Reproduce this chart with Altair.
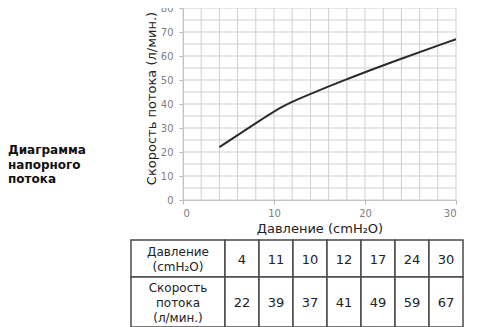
import altair as alt
import pandas as pd

# ---- data ----
pressure = [4, 11, 10, 12, 17, 24, 30]
flow = [22, 39, 37, 41, 49, 59, 67]
x_ticks = [0, 10, 20, 30]
y_ticks = [0, 10, 20, 30, 40, 50, 60, 70, 80]
x_grid = [0, 2, 4, 6, 8, 10, 12, 14, 16, 18, 20, 22, 24, 26, 28, 30]
y_grid = [0, 5, 10, 15, 20, 25, 30, 35, 40, 45, 50, 55, 60, 65, 70, 75, 80]
row_headers = ["Давление\n(cmH₂O)", "Скорость\nпотока\n(л/мин.)"]
side_label = "Диаграмма\nнапорного\nпотока"
x_title = "Давление (cmH₂O)"
y_title = "Скорость потока (л/мин.)"

# ---- layout / style ----
W, H = 273, 192
FONT = "DejaVu Sans"
GRID = "#cfcfcf"
AX = "#b5b5b5"
HEADER_W, CELL_W = 94, 34
ROW_H = [37, 50]
TABLE_LEFT, TABLE_TOP = -52, 232
LH = 15

xs = alt.Scale(domain=[0, 30], nice=False, zero=False)
ys = alt.Scale(domain=[0, 80], nice=False)

xaxis = alt.Axis(values=x_ticks, grid=False, title=x_title, labelPadding=4,
                 titleY=28, titleBaseline="middle", format="d")
yaxis = alt.Axis(values=y_ticks, grid=False, title=y_title, labelPadding=6,
                 titleX=-32, titleY=90, titleBaseline="middle", format="d")

line_df = pd.DataFrame({"p": pressure, "f": flow})
gx_df = pd.DataFrame({"p": x_grid})
gy_df = pd.DataFrame({"f": y_grid})

grid_v = alt.Chart(gx_df).mark_rule(color=GRID, strokeWidth=1).encode(
    x=alt.X("p:Q", scale=xs, axis=xaxis)
)
grid_h = alt.Chart(gy_df).mark_rule(color=GRID, strokeWidth=1).encode(
    y=alt.Y("f:Q", scale=ys, axis=yaxis)
)
curve = alt.Chart(line_df).mark_line(color="#2b2b2b", strokeWidth=2, interpolate="basis").encode(
    x=alt.X("p:Q", scale=xs, axis=xaxis),
    y=alt.Y("f:Q", scale=ys, axis=yaxis),
)
plot = alt.layer(grid_v, grid_h, curve)

# ---- table ----
rows = [pressure, flow]
recs = []
y0 = 0
for r in range(2):
    y1 = y0 + ROW_H[r]
    for c in range(len(pressure) + 1):
        if c == 0:
            x0, x1, txt, kind = 0, HEADER_W, row_headers[r], "head"
        else:
            x0 = HEADER_W + (c - 1) * CELL_W
            x1 = x0 + CELL_W
            txt, kind = str(rows[r][c - 1]), "val"
        n = txt.count("\n")
        recs.append({"x0": x0, "x1": x1, "y0": y0, "y1": y1,
                     "xm": (x0 + x1) / 2, "ym": (y0 + y1) / 2 + 1 - n * LH / 2,
                     "t": txt, "k": kind})
    y0 = y1
tab_df = pd.DataFrame(recs)
TW = HEADER_W + len(pressure) * CELL_W
TH = sum(ROW_H)
txs = alt.Scale(domain=[0, TW], range=[TABLE_LEFT, TABLE_LEFT + TW])
tys = alt.Scale(domain=[0, TH], range=[TABLE_TOP, TABLE_TOP + TH])

cells = alt.Chart(tab_df).mark_rect(fill="white", stroke="#4a4a4a", strokeWidth=1.5).encode(
    x=alt.X("x0:Q", scale=txs, axis=None),
    x2="x1:Q",
    y=alt.Y("y0:Q", scale=tys, axis=None),
    y2="y1:Q",
)
head_txt = alt.Chart(tab_df).transform_filter(alt.datum.k == "head").mark_text(
    font=FONT, fontSize=12, lineHeight=LH, lineBreak="\n", color="#222", baseline="middle"
).encode(
    x=alt.X("xm:Q", scale=txs, axis=None),
    y=alt.Y("ym:Q", scale=tys, axis=None),
    text="t:N",
)
val_txt = alt.Chart(tab_df).transform_filter(alt.datum.k == "val").mark_text(
    font=FONT, fontSize=13, color="#222", baseline="middle"
).encode(
    x=alt.X("xm:Q", scale=txs, axis=None),
    y=alt.Y("ym:Q", scale=tys, axis=None),
    text="t:N",
)
table = alt.layer(cells, head_txt, val_txt)

side = alt.Chart(pd.DataFrame({"t": [side_label]})).mark_text(
    font=FONT, fontSize=12, fontWeight="bold", lineHeight=14.5, lineBreak="\n",
    align="left", baseline="middle", color="#111"
).encode(x=alt.value(-175), y=alt.value(142), text="t:N")

chart = alt.layer(plot, table, side).resolve_scale(
    x="independent", y="independent"
).properties(
    width=W, height=H,
    padding={"left": 175, "top": 0, "right": 12, "bottom": 127},
    autosize=alt.AutoSizeParams(type="none"),
).configure_view(stroke=None).configure_axis(
    labelFont=FONT, titleFont=FONT, labelFontSize=10, labelColor="#808080",
    titleFontSize=13, titleColor="#222", titleFontWeight="normal",
    domainColor=AX, tickColor=AX, tickSize=4,
)

chart.save("out.html", embed_options={"renderer": "svg", "actions": False})
